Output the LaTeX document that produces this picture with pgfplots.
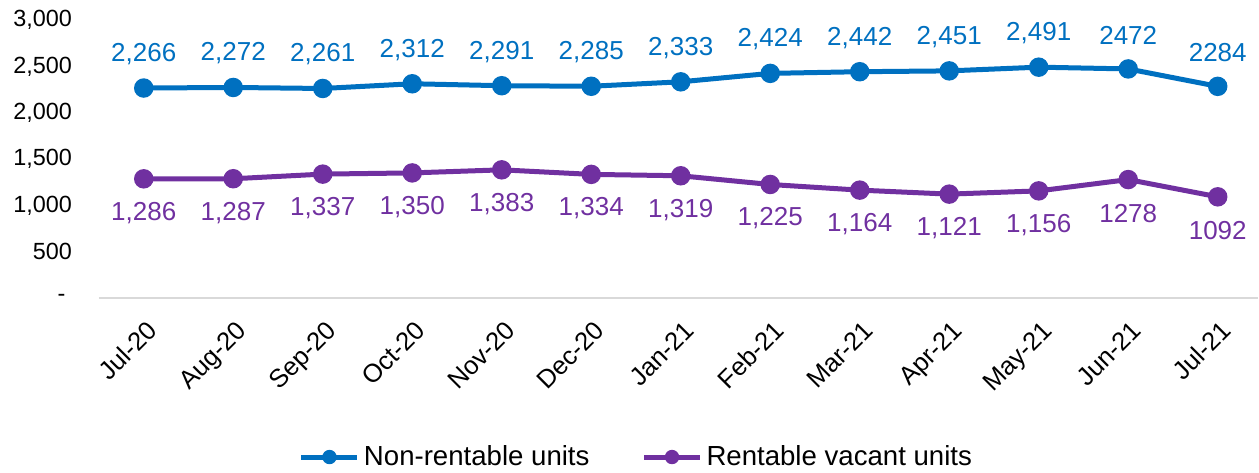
\documentclass[border=0pt]{standalone}
\usepackage{pgfplots}
\pgfplotsset{compat=1.18}
\usepackage{fontspec}
\setmainfont{Liberation Sans}
\definecolor{cblue}{HTML}{0070C0}
\definecolor{cpurp}{HTML}{7030A0}
\definecolor{axgray}{HTML}{D9D9D9}
\begin{document}
\begin{tikzpicture}
\useasboundingbox (-49.5pt,-87pt) rectangle (580pt,149pt);
\begin{axis}[
  scale only axis,
  width=579.5pt, height=139pt,
  at={(0,0)}, anchor=south west,
  xmin=-0.5, xmax=12.45,
  ymin=0, ymax=3000,
  axis line style={draw=none},
  major tick length=0pt,
  tick label style={font=\fontsize{11.7pt}{13pt}\selectfont},
  ytick={0,500,1000,1500,2000,2500,3000},
  yticklabels={{-~~},500,{1,000},{1,500},{2,000},{2,500},{3,000}},
  yticklabel style={xshift=-10pt},
  xtick={0,...,12},
  xticklabels={Jul-20,Aug-20,Sep-20,Oct-20,Nov-20,Dec-20,Jan-21,Feb-21,Mar-21,Apr-21,May-21,Jun-21,Jul-21},
  x tick label style={font=\fontsize{12.8pt}{14pt}\selectfont, anchor=north east, inner sep=0pt, xshift=1pt, yshift=-10.5pt, rotate=45},
  point meta=explicit symbolic,
  nodes near coords,
  legend style={draw=none, fill=none, at={(0.4646,-0.572)}, anchor=center,
    font=\fontsize{13.8pt}{15pt}\selectfont, legend columns=2,
    /tikz/every even column/.append style={column sep=24pt}},
  legend image code/.code={
    \draw[#1, line width=2.5pt] (0pt,0pt) -- (28pt,0pt);
    \draw[#1, fill, draw=none] (14pt,0pt) circle (3.6pt);
  },
  legend cell align=left,
  clip=false,
]
\draw[axgray, line width=1pt] (rel axis cs:0,0) -- (rel axis cs:1,0);
\addplot[cblue, line width=2.5pt, mark=*, mark size=3.6pt,
  every node near coord/.append style={anchor=center, yshift=17pt, text=cblue, font=\fontsize{13pt}{14pt}\selectfont}]
  table[x=x, y=y, meta=l] {
x y l
0 2266 2,266
1 2272 2,272
2 2261 2,261
3 2312 2,312
4 2291 2,291
5 2285 2,285
6 2333 2,333
7 2424 2,424
8 2442 2,442
9 2451 2,451
10 2491 2,491
11 2472 2472
12 2284 2284
};
\addlegendentry{Non-rentable units}
\addplot[cpurp, line width=2.5pt, mark=*, mark size=3.6pt,
  every node near coord/.append style={anchor=center, yshift=-17pt, text=cpurp, font=\fontsize{13pt}{14pt}\selectfont}]
  table[x=x, y=y, meta=l] {
x y l
0 1286 1,286
1 1287 1,287
2 1337 1,337
3 1350 1,350
4 1383 1,383
5 1334 1,334
6 1319 1,319
7 1225 1,225
8 1164 1,164
9 1121 1,121
10 1156 1,156
11 1278 1278
12 1092 1092
};
\addlegendentry{Rentable vacant units}
\end{axis}
\end{tikzpicture}
\end{document}
